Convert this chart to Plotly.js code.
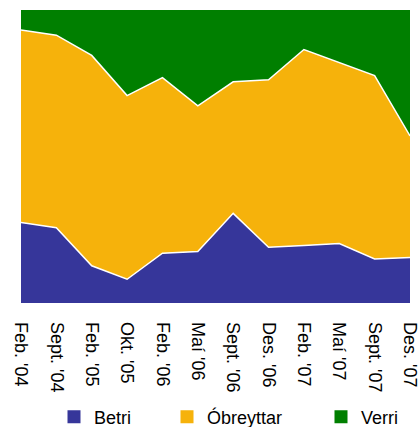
<!DOCTYPE html>
<html>
<head>
<meta charset="utf-8">
<script src="https://cdn.plot.ly/plotly-3.0.1.min.js"></script>
<style>html,body{margin:0;padding:0;background:#fff;}#chart{width:418px;height:427px;}</style>
</head>
<body>
<div id="chart"></div>
<script>
const categories = ["Feb. '04", "Sept. '04", "Feb. '05", "Okt. '05", "Feb. '06", "Maí '06", "Sept. '06", "Des. '06", "Feb. '07", "Maí '07", "Sept. '07", "Des. '07"];
const betri = [27.5, 25.7, 12.7, 8.1, 17.0, 17.6, 30.6, 19.0, 19.6, 20.3, 15.0, 15.5];
const obreyttar = [65.7, 65.7, 71.8, 62.7, 59.9, 49.7, 44.9, 57.2, 66.9, 61.7, 62.6, 41.5];
const verri = [6.8, 8.6, 15.5, 29.2, 23.1, 32.7, 24.5, 23.8, 13.5, 18.0, 22.4, 43.0];
const seriesNames = ["Betri", "Óbreyttar", "Verri"];
const seriesColors = ["#36369a", "#f6b20b", "#007f00"];

const font = {family: "Liberation Sans, Arial, sans-serif", size: 18, color: "#000"};
const allValues = [betri, obreyttar, verri];
const traces = [];
allValues.forEach((vals, i) => {
  traces.push({
    type: "scatter", mode: "lines", x: categories, y: vals,
    stackgroup: "one", name: seriesNames[i],
    fillcolor: seriesColors[i],
    line: {color: "#ffffff", width: i === 2 ? 0 : 1.5},
    showlegend: false, hoverinfo: "skip"
  });
});
const legendIds = ["legend", "legend2", "legend3"];
allValues.forEach((vals, i) => {
  traces.push({
    type: "scatter", mode: "markers", x: [null], y: [null],
    name: seriesNames[i],
    marker: {symbol: "square", size: 13, color: seriesColors[i]},
    legend: legendIds[i], showlegend: true
  });
});
function legendCfg(px) {
  return {orientation: "h", xref: "container", yref: "container",
    x: px / 418, xanchor: "left", y: 1 - 417 / 427, yanchor: "middle",
    font: font, bgcolor: "rgba(0,0,0,0)", borderwidth: 0, tracegroupgap: 0};
}
const layout = {
  width: 418, height: 427,
  margin: {l: 21, r: 8, t: 10, b: 124},
  paper_bgcolor: "#fff", plot_bgcolor: "#fff",
  font: font,
  showlegend: true,
  xaxis: {type: "category", range: [0, 11], tickangle: 90, ticks: "", showline: false,
    showgrid: false, zeroline: false, tickfont: font, automargin: false, ticklabelstandoff: 18},
  yaxis: {range: [0, 100], showticklabels: false, showgrid: false, zeroline: false, ticks: "", showline: false},
  legend: legendCfg(54),
  legend2: legendCfg(167),
  legend3: legendCfg(321)
};
Plotly.newPlot("chart", traces, layout, {staticPlot: true, displayModeBar: false});
</script>
</body>
</html>
